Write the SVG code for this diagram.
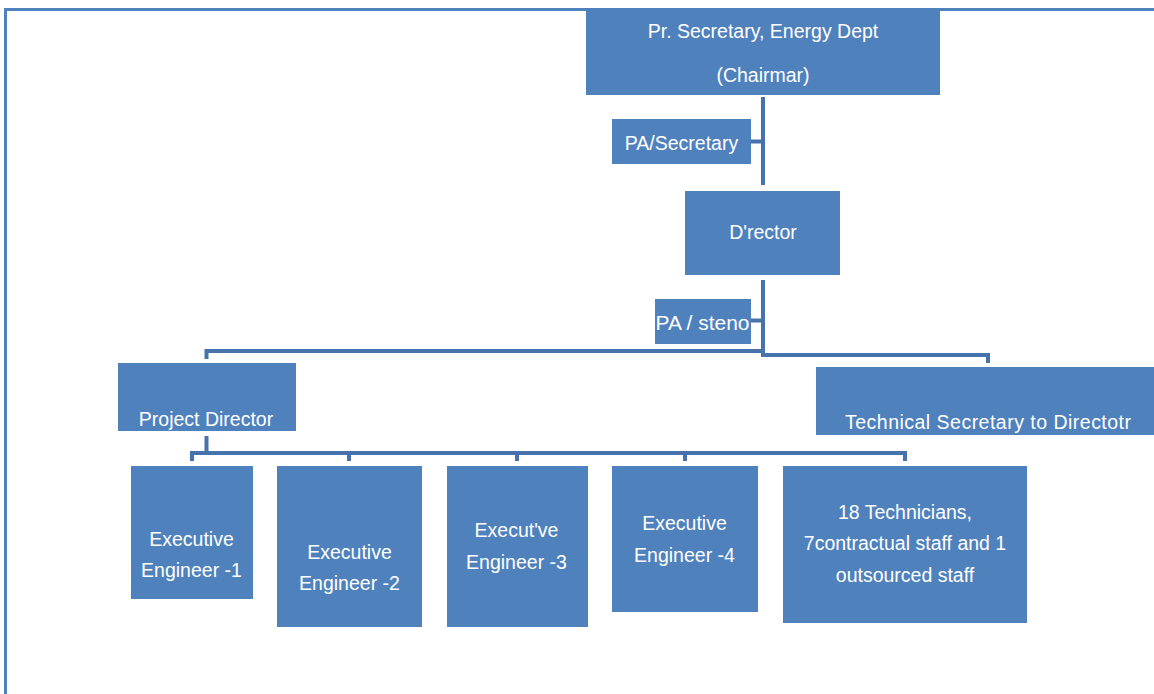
<svg xmlns="http://www.w3.org/2000/svg" width="1154" height="694" viewBox="0 0 1154 694">
<style>
.box{fill:#4F81BD}
.t{fill:#FFFFFF;font-family:"Liberation Sans",Arial,sans-serif;font-size:19.5px;text-anchor:middle}
.c{fill:none;stroke:#4673AB;stroke-width:4}
.f{fill:none;stroke:#4F81BD;stroke-width:3}
</style>
<rect width="1154" height="694" fill="#FFFFFF"/>
<g id="frame">
<line class="f" x1="5.5" y1="8" x2="5.5" y2="694"/>
<line class="f" x1="4" y1="9.5" x2="1154" y2="9.5"/>
</g>
<g id="connectors">
<line class="c" x1="763" y1="97" x2="763" y2="185"/>
<line class="c" x1="751" y1="141.5" x2="763" y2="141.5"/>
<line class="c" x1="763" y1="280" x2="763" y2="357"/>
<line class="c" x1="751" y1="320.5" x2="763" y2="320.5"/>
<polyline class="c" points="206.5,359 206.5,351 763,351"/>
<polyline class="c" points="763,355 988,355 988,363"/>
<line class="c" x1="206.5" y1="436" x2="206.5" y2="453"/>
<polyline class="c" points="192,461 192,453 905,453 905,461"/>
<line class="c" x1="349" y1="453" x2="349" y2="461"/>
<line class="c" x1="517" y1="453" x2="517" y2="461"/>
<line class="c" x1="685" y1="453" x2="685" y2="461"/>
</g>
<g id="chairman">
<rect class="box" x="586" y="11" width="354" height="84"/>
<text class="t" x="763" y="38">Pr. Secretary, Energy Dept</text>
<text class="t" x="763" y="82">(Chairmar)</text>
</g>
<g id="pa-secretary">
<rect class="box" x="612" y="119" width="139" height="45"/>
<text class="t" x="681.5" y="150">PA/Secretary</text>
</g>
<g id="director">
<rect class="box" x="685" y="191" width="155" height="84"/>
<text class="t" x="763" y="239">D'rector</text>
</g>
<g id="pa-steno">
<rect class="box" x="655" y="299" width="96" height="45"/>
<text class="t" x="702.5" y="330" textLength="94" lengthAdjust="spacingAndGlyphs">PA / steno</text>
</g>
<g id="project-director">
<rect class="box" x="118" y="363" width="178" height="68"/>
<text class="t" x="206" y="426">Project Director</text>
</g>
<g id="technical-secretary">
<rect class="box" x="816" y="367" width="338" height="68"/>
<text class="t" x="988" y="429" textLength="286" lengthAdjust="spacing">Technical Secretary to Directotr</text>
</g>
<g id="ee1">
<rect class="box" x="131" y="466" width="122" height="133"/>
<text class="t" x="191.5" y="546">Executive</text>
<text class="t" x="191.5" y="577">Engineer -1</text>
</g>
<g id="ee2">
<rect class="box" x="277" y="466" width="145" height="161"/>
<text class="t" x="349.5" y="559">Executive</text>
<text class="t" x="349.5" y="590">Engineer -2</text>
</g>
<g id="ee3">
<rect class="box" x="447" y="466" width="141" height="161"/>
<text class="t" x="516.5" y="537">Execut've</text>
<text class="t" x="516.5" y="569">Engineer -3</text>
</g>
<g id="ee4">
<rect class="box" x="612" y="466" width="146" height="146"/>
<text class="t" x="684.5" y="530">Executive</text>
<text class="t" x="684.5" y="562">Engineer -4</text>
</g>
<g id="technicians">
<rect class="box" x="783" y="466" width="244" height="157"/>
<text class="t" x="905" y="519">18 Technicians,</text>
<text class="t" x="905" y="550">7contractual staff and 1</text>
<text class="t" x="905" y="582">outsourced staff</text>
</g>
</svg>
